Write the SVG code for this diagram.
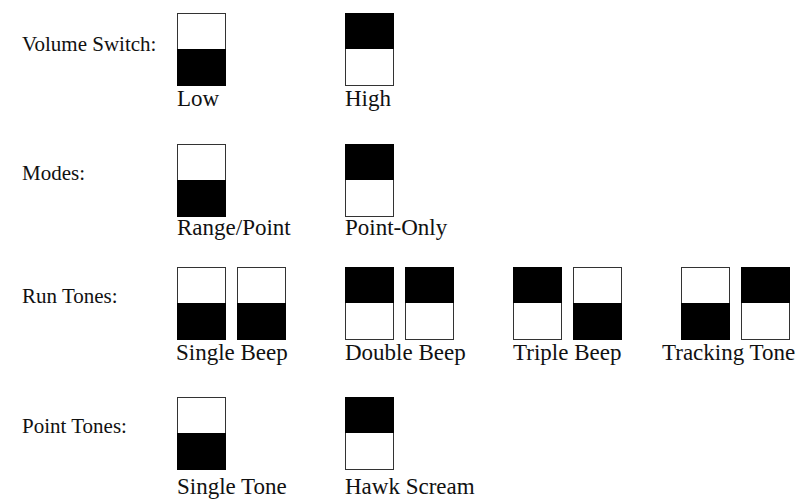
<svg xmlns="http://www.w3.org/2000/svg" width="803" height="499" viewBox="0 0 803 499">
<style>
.bg{fill:#ffffff}
.box{fill:#ffffff;stroke:#333333;stroke-width:1}
.on{fill:#000000}
.lbl{font-family:"Liberation Serif","Times New Roman",serif;font-size:21px;fill:#111111}
.cap{font-family:"Liberation Serif","Times New Roman",serif;font-size:23px;fill:#111111}
</style>
<defs>
<g id="swDown"><rect class="box" x="0.5" y="0.5" width="48" height="72"/><rect class="on" x="0" y="36" width="49" height="37"/></g>
<g id="swUp"><rect class="box" x="0.5" y="0.5" width="48" height="72"/><rect class="on" x="0" y="0" width="49" height="36"/></g>
</defs>
<rect class="bg" x="0" y="0" width="803" height="499"/>
<g id="row-volume">
<text class="lbl" x="22" y="51">Volume Switch:</text>
<g id="vol-low"><use href="#swDown" x="177" y="13"/><text class="cap" x="177" y="106">Low</text></g>
<g id="vol-high"><use href="#swUp" x="345" y="13"/><text class="cap" x="345" y="106">High</text></g>
</g>
<g id="row-modes">
<text class="lbl" x="22" y="180">Modes:</text>
<g id="mode-range"><use href="#swDown" x="177" y="144"/><text class="cap" x="177" y="235">Range/Point</text></g>
<g id="mode-point"><use href="#swUp" x="345" y="144"/><text class="cap" x="345" y="235">Point-Only</text></g>
</g>
<g id="row-run">
<text class="lbl" x="22" y="303">Run Tones:</text>
<g id="run-single"><use href="#swDown" x="177" y="267"/><use href="#swDown" x="237" y="267"/><text class="cap" x="176" y="360">Single Beep</text></g>
<g id="run-double"><use href="#swUp" x="345" y="267"/><use href="#swUp" x="405" y="267"/><text class="cap" x="345" y="360">Double Beep</text></g>
<g id="run-triple"><use href="#swUp" x="513" y="267"/><use href="#swDown" x="573" y="267"/><text class="cap" x="513" y="360">Triple Beep</text></g>
<g id="run-tracking"><use href="#swDown" x="681" y="267"/><use href="#swUp" x="741" y="267"/><text class="cap" x="662" y="360">Tracking Tone</text></g>
</g>
<g id="row-point">
<text class="lbl" x="22" y="433">Point Tones:</text>
<g id="pt-single"><use href="#swDown" x="177" y="397"/><text class="cap" x="177" y="494">Single Tone</text></g>
<g id="pt-hawk"><use href="#swUp" x="345" y="397"/><text class="cap" x="345" y="494">Hawk Scream</text></g>
</g>
<g id="connectors"></g>
</svg>
